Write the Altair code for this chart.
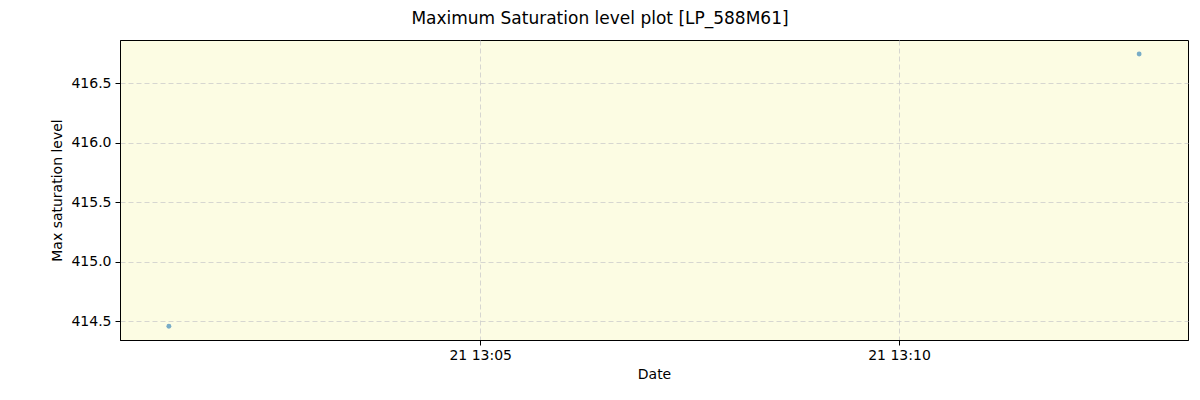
import altair as alt
import pandas as pd
from datetime import datetime, timezone

# Data
times = ["2024-01-21T13:01:17Z", "2024-01-21T13:12:52Z"]
values = [414.458, 416.744]

x_domain = ["2024-01-21T13:00:42Z", "2024-01-21T13:13:27Z"]
x_ticks = ["2024-01-21T13:05:00Z", "2024-01-21T13:10:00Z"]
y_domain = [414.343, 416.861]
y_ticks = [414.5, 415.0, 415.5, 416.0, 416.5]


def ms(s):
    return int(datetime.strptime(s, "%Y-%m-%dT%H:%M:%SZ").replace(tzinfo=timezone.utc).timestamp() * 1000)


df = pd.DataFrame({"t": [ms(s) for s in times], "v": values})

font = "DejaVu Sans"

chart = alt.Chart(df).mark_circle(size=24, color="#1f77b4", opacity=0.6).encode(
    x=alt.X(
        "t:T",
        scale=alt.Scale(type="utc", domain=[ms(s) for s in x_domain]),
        axis=alt.Axis(
            title="Date",
            values=[ms(s) for s in x_ticks],
            labelExpr="utcFormat(datum.value, '%d %H:%M')",
            grid=True,
            gridDash=[5, 3],
            gridColor="#cccccc",
            gridWidth=0.8,
            tickColor="black",
            tickSize=5,
            domainColor="black",
            labelPadding=3,
            labelFontSize=14,
            labelFont=font,
            labelColor="black",
            titleFont=font,
            titleFontSize=14,
            titleFontWeight="normal",
            titleColor="black",
            titlePadding=5,
            labelFlush=False,
        ),
    ),
    y=alt.Y(
        "v:Q",
        scale=alt.Scale(domain=y_domain, zero=False, nice=False),
        axis=alt.Axis(
            title="Max saturation level",
            values=y_ticks,
            format=".1f",
            grid=True,
            gridDash=[5, 3],
            gridColor="#cccccc",
            gridWidth=0.8,
            tickColor="black",
            tickSize=5,
            domainColor="black",
            labelPadding=4,
            labelFontSize=14,
            labelFont=font,
            labelColor="black",
            titleFont=font,
            titleFontSize=14,
            titleFontWeight="normal",
            titleColor="black",
            titleX=-63,
            titleY=150,
            titleBaseline="middle",
            titleAlign="center",
            labelFlush=False,
        ),
    ),
).properties(
    width=1068,
    height=300,
    autosize=alt.AutoSizeParams(type="none"),
    padding={"left": 112, "top": 32, "right": 4, "bottom": 44},
    background="white",
    title=alt.TitleParams(
        "Maximum Saturation level plot [LP_588M61]",
        font=font,
        fontSize=17,
        fontWeight="normal",
        color="black",
        anchor="middle",
        dx=-54,
        offset=12,
    ),
).configure_view(
    fill="#fcfce3",
    stroke="black",
    strokeWidth=1,
)

chart.save("out.html", embed_options={"renderer": "svg", "actions": False})
